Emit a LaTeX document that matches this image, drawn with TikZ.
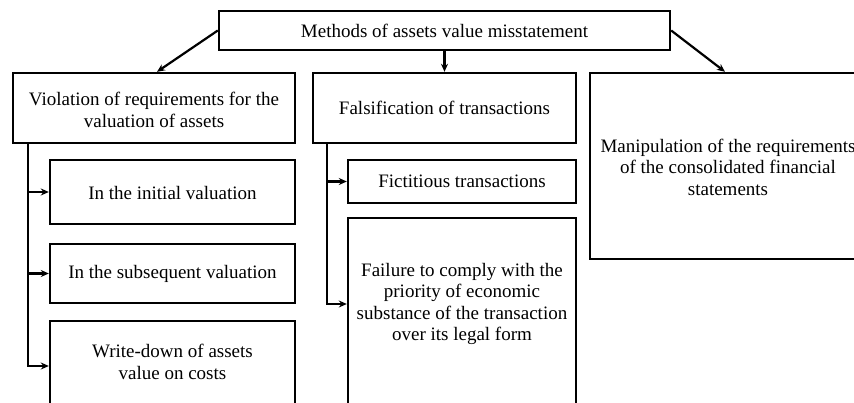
\documentclass[tikz,border=0pt]{standalone}
\usepackage{fontspec}
\setmainfont{Liberation Serif}
\usetikzlibrary{arrows.meta,calc}
\tikzset{
  box/.style={draw=black, line width=2.4pt, rectangle, inner sep=0pt, fill=white},
  txt/.style={align=center, font=\fontsize{19}{21.5}\selectfont, inner sep=0pt},
  arr/.style={draw=black, line width=2.2pt, -{Stealth[length=8pt,width=7pt]}},
  conn/.style={draw=black, line width=2.2pt}
}
\begin{document}
\begin{tikzpicture}[x=1pt,y=-1pt]
\useasboundingbox (0,0) rectangle (854,402);
\fill[white] (0,0) rectangle (854,402);
% boxes
\node[box, minimum width=451pt, minimum height=39pt] (top) at (444.5,30.5) {};
\node[txt] (toptxt) at (444.5,30.5) {Methods of assets value misstatement};
\node[box, minimum width=282pt, minimum height=70pt] (viol) at (154,108) {};
\node[txt] (violtxt) at (154,110) {Violation of requirements for the\\valuation of assets};
\node[box, minimum width=263pt, minimum height=70pt] (fals) at (444.5,108) {};
\node[txt] (falstxt) at (444.5,108) {Falsification of transactions};
\node[box, minimum width=276pt, minimum height=186pt] (manip) at (728,166) {};
\node[txt] (maniptxt) at (728,167) {Manipulation of the requirements\\of the consolidated financial\\statements};
\node[box, minimum width=245pt, minimum height=64pt] (init) at (172.5,192) {};
\node[txt] (inittxt) at (172.5,193) {In the initial valuation};
\node[box, minimum width=245pt, minimum height=59pt] (subs) at (172.5,273.5) {};
\node[txt] (substxt) at (172.5,273.5) {In the subsequent valuation};
\node[box, minimum width=245pt, minimum height=90pt] (write) at (172.5,366) {};
\node[txt] (writetxt) at (172.5,362) {Write-down of assets\\value on costs};
\node[box, minimum width=228pt, minimum height=43pt] (fict) at (462,181.5) {};
\node[txt] (ficttxt) at (462,181.5) {Fictitious transactions};
\node[box, minimum width=228pt, minimum height=200pt] (fail) at (462,318) {};
\node[txt] (failtxt) at (462,304) {Failure to comply with the\\priority of economic\\substance of the transaction\\over its legal form};
% connectors from top
\draw[arr] (top.west) -- (viol.north -| 157,0);
\draw[arr] (top.south) -- (fals.north);
\draw[arr] (top.east) -- (manip.north -| 725,0);
% left trunk
\coordinate (tl) at ($(viol.south west)+(16,0)$);
\draw[conn] (tl) -- ($(tl |- write.west)$);
\draw[arr] ($(tl |- init.west)$) -- (init.west);
\draw[arr] ($(tl |- subs.west)$) -- (subs.west);
\draw[arr] (tl) |- (write.west);
% middle trunk
\coordinate (tm) at ($(fals.south west)+(15,0)$);
\draw[arr] ($(tm |- fict.west)$) -- (fict.west);
\draw[arr] (tm) |- (fail.west |- failtxt.center);
\end{tikzpicture}
\end{document}
